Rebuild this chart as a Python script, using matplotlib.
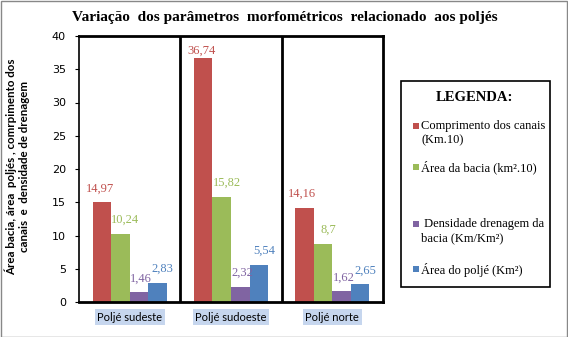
import matplotlib
matplotlib.use("Agg")
import matplotlib.pyplot as plt
from matplotlib.patches import Rectangle
import numpy as np

# ---- data ----
categories = ["Poljé sudeste", "Poljé sudoeste", "Poljé norte"]
series_names = ["Comprimento dos canais\n(Km.10)",
                "Área da bacia (km².10)",
                " Densidade drenagem da\nbacia (Km/Km²)",
                "Área do poljé (Km²)"]
comprimento = [14.97, 36.74, 14.16]
area_bacia = [10.24, 15.82, 8.7]
densidade = [1.46, 2.32, 1.62]
area_polje = [2.83, 5.54, 2.65]
series_values = [comprimento, area_bacia, densidade, area_polje]
colors = ["#C0504D", "#9BBB59", "#8064A2", "#4F81BD"]
yticks = [0, 5, 10, 15, 20, 25, 30, 35, 40]

W, H = 568, 337
fig = plt.figure(figsize=(W / 100, H / 100), dpi=100)
fig.patch.set_facecolor("white")

def fx(px):
    return px / W

def fy(py):
    return 1 - py / H

ax = fig.add_axes([fx(79), fy(302), fx(383) - fx(79), fy(36) - fy(302)])

x = np.arange(len(categories))
bw = 0.183
offsets = [-0.275, -0.092, 0.092, 0.275]
label_dx = [-0.02, 0.05, 0.02, 0.05]
for vals, col, off, ldx in zip(series_values, colors, offsets, label_dx):
    ax.bar(x + off, vals, width=bw, color=col, zorder=2)
    for xi, v in zip(x, vals):
        ly = min(v + 2.1, 37.8)
        ax.text(xi + off + ldx, ly, str(v).replace(".", ","), ha="center", va="center",
                color=col, fontsize=9, family="Liberation Serif", zorder=3)

ax.set_xlim(-0.5, 2.5)
ax.set_ylim(0, 40)
for xs in [0.5, 1.5]:
    ax.axvline(xs, color="black", lw=2, zorder=4)
for sp in ax.spines.values():
    sp.set_linewidth(2)
    sp.set_color("black")
ax.spines["left"].set_linewidth(1.2)

ax.set_yticks(yticks)
ax.set_yticklabels([str(t) for t in yticks], fontsize=8, family="DejaVu Sans")
ax.tick_params(axis="y", direction="out", length=3, width=0.8, pad=6.5, colors="black")
ax.set_xticks(x)
ax.set_xticklabels(categories, fontsize=8, family="Lato")
ax.tick_params(axis="x", length=0, pad=7)
for lbl in ax.get_xticklabels():
    lbl.set_bbox(dict(facecolor="#C6D6EE", edgecolor="none", pad=1.8))

ax.set_ylabel("Área bacia, área  poljés , comrpimento dos\ncanais  e  densidade de drenagem",
              fontsize=8.3, fontweight="bold", family="Lato", linespacing=1.25)
ax.yaxis.set_label_coords((30 - 79) / 304, 0.51)

fig.text(fx(285), fy(18), "Variação  dos parâmetros  morfométricos  relacionado  aos poljés",
         ha="center", va="center", fontsize=11, fontweight="bold", family="Liberation Serif")

# legend box
fig.patches.append(Rectangle((fx(401), fy(287)), fx(550) - fx(401), fy(81) - fy(287),
                             transform=fig.transFigure, facecolor="white", edgecolor="black",
                             lw=1.2, zorder=1))
fig.text(fx(474), fy(97), "LEGENDA:", ha="center", va="center", fontsize=10.5,
         fontweight="bold", family="Liberation Serif")
legend_y = [127, 168, 225, 270]
for name, col, ly in zip(series_names, colors, legend_y):
    fig.patches.append(Rectangle((fx(413), fy(ly + 2)), fx(6), 6 / H,
                                 transform=fig.transFigure, facecolor=col, edgecolor="none", zorder=2))
    fig.text(fx(421), fy(ly - 7), name, ha="left", va="top", fontsize=9,
             family="Liberation Serif", linespacing=1.25)

# outer border
fig.patches.append(Rectangle((0.5 / W, 0.5 / H), 1 - 1.5 / W, 1 - 1.5 / H, transform=fig.transFigure,
                             facecolor="none", edgecolor="#888888", lw=1, zorder=5))

fig.savefig("out.png", dpi=100)
